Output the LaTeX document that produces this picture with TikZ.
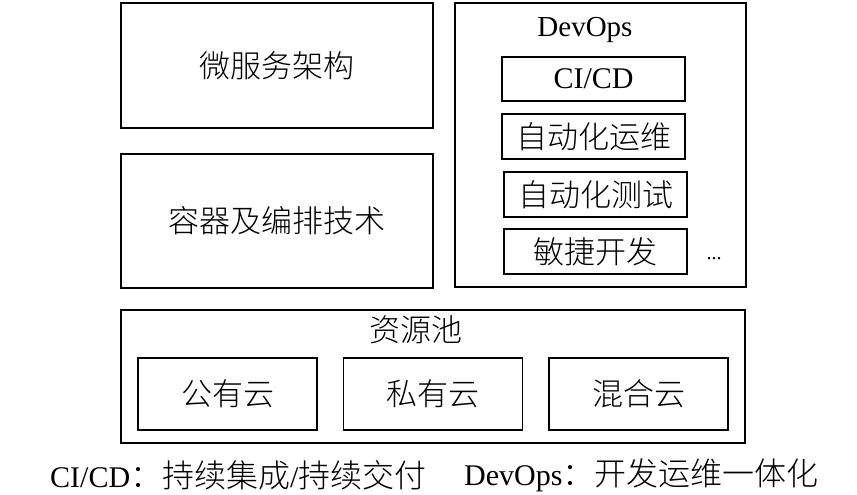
\documentclass[tikz,border=0pt]{standalone}
\usepackage{fontspec}
\setmainfont{Liberation Serif}
\IfFontExistsTF{Noto Sans CJK SC Light}
  {\newfontfamily\cjk{Noto Sans CJK SC Light}}
  {\newfontfamily\cjk{Noto Sans CJK SC}}
\tikzset{
  box/.style={draw=black, line width=1.6pt, inner sep=0pt, fill=white},
  txt/.style={font=\fontsize{30}{34}\selectfont, inner sep=0pt},
  ctxt/.style={font=\fontsize{31}{34}\selectfont\cjk, inner sep=0pt},
}
\begin{document}
\begin{tikzpicture}[x=1pt,y=-1pt]
\useasboundingbox[fill=white] (0,0) rectangle (857,495);
% left column
\node[box, minimum width=312pt, minimum height=125pt] (ms) at (277,65.5) {};
\node[ctxt] (mst) at (ms.center) {微服务架构};
\node[box, minimum width=312pt, minimum height=134pt] (ct) at (277,221) {};
\node[ctxt] (ctt) at (ct.center) {容器及编排技术};
% DevOps
\node[box, minimum width=291pt, minimum height=284pt] (dv) at (600.5,145) {};
\node[txt, font=\fontsize{29}{34}\selectfont] (dvt) at (585,30) {DevOps};
\node[box, minimum width=183pt, minimum height=44pt] (cicd) at (593.5,79) {};
\node[txt] (cicdt) at (cicd.center) {CI/CD};
\node[box, minimum width=183pt, minimum height=45pt] (yw) at (593.5,136.5) {};
\node[ctxt] (ywt) at (yw.center) {自动化运维};
\node[box, minimum width=183pt, minimum height=45pt] (cs) at (595.5,194.5) {};
\node[ctxt] (cst) at (cs.center) {自动化测试};
\node[box, minimum width=183pt, minimum height=45pt] (mj) at (595.5,251.5) {};
\node[ctxt] (mjt) at (mj.center) {敏捷开发};
\node[inner sep=0pt, anchor=base, font=\fontsize{20}{24}\selectfont] (dots) at (714,259) {...};
% resource pool
\node[box, minimum width=624pt, minimum height=133pt] (pool) at (433,376.5) {};
\node[ctxt] (poolt) at (416,330) {资源池};
\node[box, minimum width=179pt, minimum height=72pt] (pub) at (227.5,394) {};
\node[ctxt] (pubt) at (pub.center) {公有云};
\node[box, minimum width=179pt, minimum height=72pt] (pri) at (433,394) {};
\node[ctxt] (prit) at (pri.center) {私有云};
\node[box, minimum width=179pt, minimum height=72pt] (hyb) at (638.5,394) {};
\node[ctxt] (hybt) at (hyb.center) {混合云};
% caption
\node[txt, anchor=west] (cap1) at (50,475) {CI/CD{\fontsize{32}{34}\selectfont\cjk ：持续集成}/{\fontsize{32}{34}\selectfont\cjk 持续交付}};
\node[txt, anchor=west] (cap2) at (464,475) {DevOps{\fontsize{32}{34}\selectfont\cjk ：开发运维一体化}};
\end{tikzpicture}
\end{document}
